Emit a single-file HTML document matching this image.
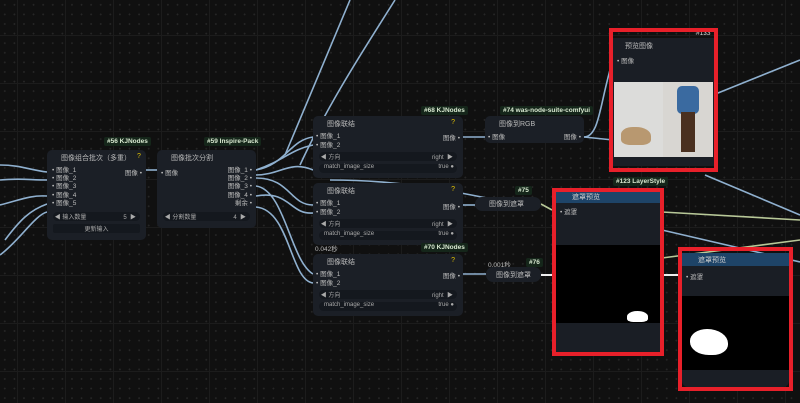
<!DOCTYPE html>
<html><head><meta charset="utf-8"><style>
*{margin:0;padding:0;box-sizing:border-box}
body{width:800px;height:403px;overflow:hidden;background:#101010;position:relative;font-family:"Liberation Sans","Noto Sans CJK SC",sans-serif;color:#c8c8c8}
.grid{position:absolute;inset:0;background-image:linear-gradient(#1c1c1c 1px,transparent 1px),linear-gradient(90deg,#1c1c1c 1px,transparent 1px),radial-gradient(#262626 0.8px,transparent 1px);background-size:48px 48px,48px 48px,9.6px 9.6px;background-position:0 35px,17px 0,0 0}
.n{position:absolute;background:#1b1f26;border-radius:5px;font-size:7px}
.t{position:absolute;font-size:7px;color:#bbb;white-space:nowrap}
.tag{position:absolute;background:#15261a;color:#d8e8d0;font-size:6.5px;padding:1px 3px;border-radius:2px;font-weight:bold;white-space:nowrap}
.w{position:absolute;background:#14181e;border-radius:6px;height:9px;font-size:6px;color:#aaa;white-space:nowrap}
.red{position:absolute;border:4px solid #e8202a}
svg{position:absolute;left:0;top:0}
</style></head><body>
<div class="grid"></div>
<svg width="800" height="403" fill="none" stroke-width="1.6">
<g stroke="#8fb0cf">
<path d="M0 165 C20 165 30 170 47 172"/>
<path d="M0 180 C20 178 30 180 47 180"/>
<path d="M0 205 C20 200 30 195 47 196"/>
<path d="M5 240 C20 220 30 210 47 204"/>
<path d="M0 255 C20 240 35 215 47 212"/>
<path d="M146 170 L157 170"/>
<path d="M256 170 C285 165 290 140 313 137"/>
<path d="M256 170 C285 160 290 150 313 145"/>
<path d="M256 178 C290 178 290 205 313 205"/>
<path d="M256 186 C285 190 290 260 313 274"/>
<path d="M256 196 C290 190 290 215 313 213"/>
<path d="M256 207 C290 210 290 280 313 283"/>
<path d="M256 175 C280 175 290 160 313 170"/>
<path d="M285 155 L350 0"/>
<path d="M300 165 C330 100 370 40 395 0"/>
<path d="M463 137 L485 137"/>
<path d="M584 137 C600 137 600 100 613 60"/>
<path d="M584 137 L613 140"/>
<path d="M463 205 L475 205"/>
<path d="M330 180 C400 180 450 190 520 205"/>
<path d="M463 274 L486 274"/>
<path d="M713 95 L800 60"/>
<path d="M705 175 L800 215"/>
<path d="M662 230 L800 262"/>
</g>
<g stroke="#b8c898">
<path d="M541 204 L552 210"/>
<path d="M662 212 L800 220"/>
<path d="M662 258 L800 240"/>
</g>
<path d="M541 275 L555 275 M662 275 L690 275" stroke="#eee" stroke-width="2"/>
</svg>

<!-- #56 -->
<div class="tag" style="left:104px;top:137px">#56 KJNodes</div>
<div class="n" style="left:47px;top:150px;width:99px;height:90px">
<div class="t" style="left:14px;top:3px">图像组合批次（多重）</div>
<div class="t" style="left:90px;top:3px;color:#e0c000">?</div>
<div class="t" style="left:5px;top:17px;font-size:6.5px;line-height:8.2px">• 图像_1<br>• 图像_2<br>• 图像_3<br>• 图像_4<br>• 图像_5</div>
<div class="t" style="right:4px;top:17px;font-size:6.5px">图像 •</div>
<div class="w" style="left:6px;top:62px;width:87px">&nbsp;◀ 输入数量<span style="position:absolute;right:4px">5 &nbsp;▶</span></div>
<div class="w" style="left:6px;top:74px;width:87px;text-align:center;border-radius:2px">更新输入</div>
</div>
<!-- #59 -->
<div class="tag" style="left:204px;top:137px">#59 Inspire-Pack</div>
<div class="n" style="left:157px;top:150px;width:99px;height:78px">
<div class="t" style="left:14px;top:3px">图像批次分割</div>
<div class="t" style="left:4px;top:17px;font-size:6.5px">• 图像</div>
<div class="t" style="right:4px;top:17px;font-size:6.5px;line-height:8.2px;text-align:right">图像_1 •<br>图像_2 •<br>图像_3 •<br>图像_4 •<br>剩余 •</div>
<div class="w" style="left:6px;top:62px;width:87px">&nbsp;◀ 分割数量<span style="position:absolute;right:4px">4 &nbsp;▶</span></div>
</div>
<!-- concat nodes -->
<div class="tag" style="left:421px;top:106px">#68 KJNodes</div>
<div class="n" style="left:313px;top:116px;width:150px;height:62px">
<div class="t" style="left:14px;top:3px">图像联结</div><div class="t" style="right:8px;top:3px;color:#e0c000">?</div>
<div class="t" style="left:3px;top:16px;font-size:6.5px;line-height:9px">• 图像_1<br>• 图像_2</div>
<div class="t" style="right:3px;top:16px;font-size:6.5px">图像 •</div>
<div class="w" style="left:6px;top:36px;width:138px">&nbsp;◀ 方向<span style="position:absolute;right:4px">right &nbsp;▶</span></div>
<div class="w" style="left:6px;top:48px;width:138px">&nbsp;&nbsp;&nbsp;match_image_size<span style="position:absolute;right:3px">true ●</span></div>
</div>
<div class="n" style="left:313px;top:183px;width:150px;height:62px">
<div class="t" style="left:14px;top:3px">图像联结</div><div class="t" style="right:8px;top:3px;color:#e0c000">?</div>
<div class="t" style="left:3px;top:16px;font-size:6.5px;line-height:9px">• 图像_1<br>• 图像_2</div>
<div class="t" style="right:3px;top:18px;font-size:6.5px">图像 •</div>
<div class="w" style="left:6px;top:36px;width:138px">&nbsp;◀ 方向<span style="position:absolute;right:4px">right &nbsp;▶</span></div>
<div class="w" style="left:6px;top:48px;width:138px">&nbsp;&nbsp;&nbsp;match_image_size<span style="position:absolute;right:3px">true ●</span></div>
</div>
<div class="t" style="left:315px;top:243px;font-size:6.5px">0.042秒</div>
<div class="tag" style="left:421px;top:243px">#70 KJNodes</div>
<div class="n" style="left:313px;top:254px;width:150px;height:62px">
<div class="t" style="left:14px;top:3px">图像联结</div><div class="t" style="right:8px;top:3px;color:#e0c000">?</div>
<div class="t" style="left:3px;top:16px;font-size:6.5px;line-height:9px">• 图像_1<br>• 图像_2</div>
<div class="t" style="right:3px;top:16px;font-size:6.5px">图像 •</div>
<div class="w" style="left:6px;top:36px;width:138px">&nbsp;◀ 方向<span style="position:absolute;right:4px">right &nbsp;▶</span></div>
<div class="w" style="left:6px;top:48px;width:138px">&nbsp;&nbsp;&nbsp;match_image_size<span style="position:absolute;right:3px">true ●</span></div>
</div>
<!-- #74 -->
<div class="tag" style="left:500px;top:106px">#74 was-node-suite-comfyui</div>
<div class="n" style="left:485px;top:116px;width:99px;height:27px">
<div class="t" style="left:14px;top:3px">图像到RGB</div>
<div class="t" style="left:3px;top:15px;font-size:6.5px">• 图像</div>
<div class="t" style="right:3px;top:15px;font-size:6.5px">图像 •</div>
</div>
<div class="tag" style="left:515px;top:186px">#75</div>
<div class="n" style="left:475px;top:197px;width:66px;height:14px;border-radius:7px"><div class="t" style="left:14px;top:2px">图像到遮罩</div></div>
<div class="t" style="left:488px;top:259px;font-size:6.5px">0.001秒</div>
<div class="tag" style="left:526px;top:258px">#76</div>
<div class="n" style="left:486px;top:267px;width:55px;height:15px;border-radius:7px"><div class="t" style="left:10px;top:3px">图像到遮罩</div></div>
<!-- #133 -->
<div class="n" style="left:613px;top:38px;width:101px;height:128px;border-radius:0;background:#1a1e25">
<div class="t" style="left:12px;top:3px">预览图像</div>
<div class="t" style="left:4px;top:17px;font-size:6.5px">• 图像</div>
<div style="position:absolute;left:1px;top:44px;width:49px;height:75px;background:#dcdcda">
<div style="position:absolute;left:7px;top:45px;width:30px;height:18px;background:#b89870;border-radius:40% 50% 30% 30%"></div></div>
<div style="position:absolute;left:50px;top:44px;width:50px;height:75px;background:#d8d6d2">
<div style="position:absolute;left:14px;top:4px;width:22px;height:28px;background:#3a6aa0;border-radius:5px"></div>
<div style="position:absolute;left:18px;top:30px;width:14px;height:40px;background:#4a3020"></div></div>
</div>
<div class="t" style="left:696px;top:30px;font-size:6.5px;color:#ddd">#133</div>
<div class="red" style="left:609px;top:28px;width:109px;height:144px"></div>
<!-- #123 -->
<div class="tag" style="left:613px;top:177px">#123 LayerStyle</div>
<div class="n" style="left:556px;top:192px;width:104px;height:160px;border-radius:0;background:#1a1e25">
<div style="height:11px;background:#1e4468;font-size:7px;padding-left:16px;color:#ccc">遮罩预览</div>
<div class="t" style="left:4px;top:14px;font-size:6.5px">• 遮罩</div>
<div style="position:absolute;left:0;top:53px;width:104px;height:78px;background:#000">
<div style="position:absolute;left:71px;top:66px;width:21px;height:11px;background:#fff;border-radius:50% 50% 30% 30%"></div></div>
</div>
<div class="red" style="left:552px;top:188px;width:112px;height:168px"></div>
<!-- mask preview 2 -->
<div class="n" style="left:682px;top:253px;width:107px;height:134px;border-radius:0 0 6px 6px;background:#1a1e25">
<div style="height:13px;background:#1e4468;font-size:7px;padding:2px 0 0 16px;color:#ccc">遮罩预览</div>
<div class="t" style="left:4px;top:18px;font-size:6.5px">• 遮罩</div>
<div style="position:absolute;left:0;top:43px;width:107px;height:74px;background:#000">
<div style="position:absolute;left:8px;top:33px;width:38px;height:26px;background:#fff;border-radius:45% 55% 40% 50%"></div></div>
</div>
<div class="red" style="left:678px;top:247px;width:115px;height:144px"></div>
</body></html>
